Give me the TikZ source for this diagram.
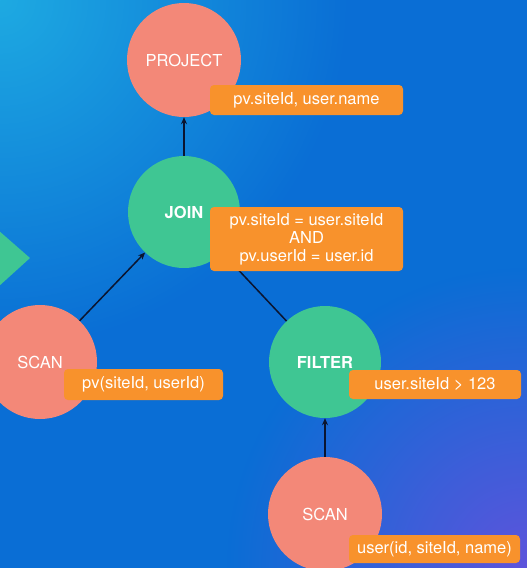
\documentclass[tikz,border=0pt]{standalone}
\usepackage{fontspec}
\setmainfont{TeX Gyre Heros}
\usetikzlibrary{fadings,arrows.meta}
\tikzfading[name=radfade, inner color=transparent!0, outer color=transparent!100]
\definecolor{bgmid}{HTML}{0A6ED5}
\definecolor{bgcyan}{HTML}{1EAAE2}
\definecolor{bgpurple}{HTML}{5E54DC}
\definecolor{salmon}{HTML}{F38878}
\definecolor{opgreen}{HTML}{3FC693}
\definecolor{lblorange}{HTML}{F8922C}
\definecolor{connc}{HTML}{0B1530}
\begin{document}
\begin{tikzpicture}[x=1pt,y=-1pt,
  opnode/.style={circle,minimum size=#1,inner sep=0pt,text=white,font=\fontsize{16.5}{18}\selectfont},
  scanop/.style={opnode=114pt,fill=salmon},
  relop/.style={opnode=112pt,fill=opgreen,font=\fontsize{16.5}{18}\selectfont\bfseries},
  lbl/.style={fill=lblorange,rounded corners=4pt,text=white,inner sep=0pt,align=center,font=\fontsize{16.5}{18}\selectfont},
  conn/.style={draw=connc,line width=1.5pt,-{Stealth[length=7pt,width=6pt]}}]
\useasboundingbox (0,0) rectangle (527,568);
\begin{scope}
\clip (0,0) rectangle (527,568);
\fill[bgmid] (0,0) rectangle (527,568);
\fill[bgcyan,path fading=radfade] (0,0) circle[radius=350pt];
\fill[bgpurple,path fading=radfade] (527,568) circle[radius=300pt];
\fill[opgreen] (-2,230) -- (30,258) -- (-2,287) -- cycle;
% operators
\node[scanop] (project) at (184,60) {PROJECT};
\node[relop] (join) at (184,212) {JOIN};
\node[scanop] (scanL) at (40,362) {SCAN};
\node[relop] (filter) at (325,362) {FILTER};
\node[scanop] (scanR) at (325,514) {SCAN};
% connectors
\draw[conn] (join) -- (project);
\draw[conn] (scanL) -- (join);
\draw[conn] (filter) -- (join);
\draw[conn] (scanR) -- (filter);
% labels
\node[lbl,minimum width=193pt,minimum height=30pt] (lproject) at (306.5,100) {pv.siteId, user.name};
\node[lbl,minimum width=193pt,minimum height=64pt] (ljoin) at (306.5,239) {pv.siteId = user.siteId\\AND\\pv.userId = user.id};
\node[lbl,minimum width=159pt,minimum height=31pt] (lscanL) at (143.5,384.5) {pv(siteId, userId)};
\node[lbl,minimum width=172pt,minimum height=29pt] (lfilter) at (435,384.5) {user.siteId > 123};
\node[lbl,minimum width=171pt,minimum height=28pt] (lscanR) at (434.5,549) {user(id, siteId, name)};
\end{scope}
\end{tikzpicture}
\end{document}
